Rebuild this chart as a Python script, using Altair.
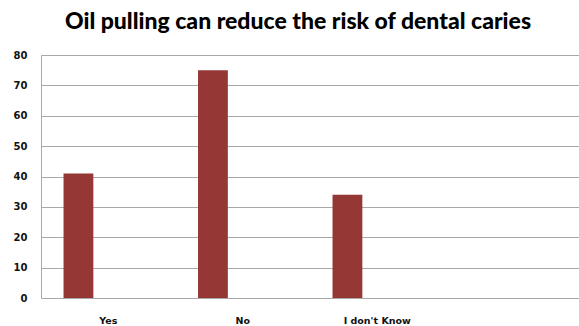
import altair as alt
import pandas as pd

categories = ["Yes", "No", "I don't Know"]
values = [41, 75, 34]
slots = ["Yes", "No", "I don't Know", " "]
series = ["S1", "S2", "S3"]

df = pd.DataFrame({"cat": categories, "val": values, "s": ["S1"] * len(categories)})

GRID = "#a8a8a8"

chart = alt.Chart(df).mark_bar(color="#953735").encode(
    x=alt.X("cat:N", sort=slots,
            scale=alt.Scale(domain=slots, paddingInner=0.335, paddingOuter=0.1675),
            axis=alt.Axis(title=None, labelAngle=0, ticks=False, domainColor=GRID,
                          labelFont="DejaVu Sans", labelFontWeight="bold", labelFontSize=9.5,
                          labelColor="#111111", labelPadding=17, grid=False)),
    xOffset=alt.XOffset("s:N", scale=alt.Scale(domain=series, paddingInner=0, paddingOuter=0)),
    y=alt.Y("val:Q", scale=alt.Scale(domain=[0, 80], nice=False),
            axis=alt.Axis(title=None, values=list(range(0, 81, 10)), ticks=False,
                          domainColor=GRID, gridColor=GRID, gridOpacity=1,
                          labelFont="DejaVu Sans", labelFontWeight="bold", labelFontSize=10,
                          labelColor="#111111", labelPadding=14)),
).properties(
    width=538, height=243,
    title=alt.TitleParams("Oil pulling can reduce the risk of dental caries",
                          font="Lato", fontSize=23, fontWeight=900, color="#000000",
                          anchor="middle", frame="group", dx=-12, offset=16),
    autosize=alt.AutoSizeParams(type="none"),
    padding={"left": 41, "top": 55, "right": 0, "bottom": 28},
    background="white",
).configure_view(stroke=None)

chart.save("out.html", embed_options={"renderer": "svg", "actions": False})
